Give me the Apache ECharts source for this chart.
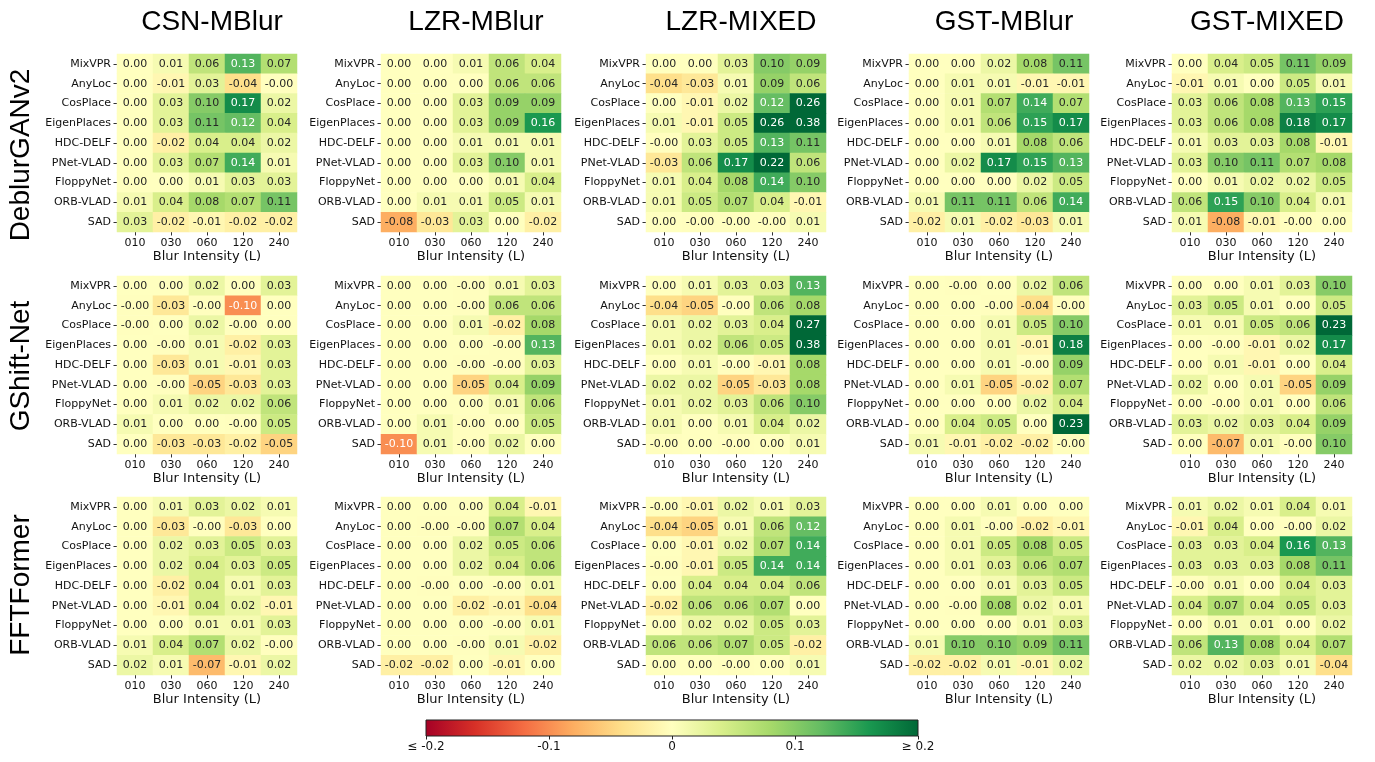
<!DOCTYPE html>
<html>
<head>
<meta charset="utf-8">
<script src="https://cdn.jsdelivr.net/npm/echarts@6/dist/echarts.min.js"></script>
<style>
html,body{margin:0;padding:0;background:#fff;}
#chart{width:1375px;height:762px;}
</style>
</head>
<body>
<div id="chart"></div>
<script>
// ---------- data ----------
const blurLevels = ['010', '030', '060', '120', '240'];
const methods = ['MixVPR', 'AnyLoc', 'CosPlace', 'EigenPlaces', 'HDC-DELF', 'PNet-VLAD', 'FloppyNet', 'ORB-VLAD', 'SAD'];
const datasets = ['CSN-MBlur', 'LZR-MBlur', 'LZR-MIXED', 'GST-MBlur', 'GST-MIXED'];
const deblurModels = ['DeblurGANv2', 'GShift-Net', 'FFTFormer'];
const colorbarTicks = [-0.2, -0.1, 0, 0.1, 0.2];
const N = -0.001; // displayed as "-0.00"

// DeblurGANv2
const deblurganCSNMBlur = [
  [0.00, 0.01, 0.06, 0.13, 0.07],
  [0.00, -0.01, 0.03, -0.04, N],
  [0.00, 0.03, 0.10, 0.17, 0.02],
  [0.00, 0.03, 0.11, 0.12, 0.04],
  [0.00, -0.02, 0.04, 0.04, 0.02],
  [0.00, 0.03, 0.07, 0.14, 0.01],
  [0.00, 0.00, 0.01, 0.03, 0.03],
  [0.01, 0.04, 0.08, 0.07, 0.11],
  [0.03, -0.02, -0.01, -0.02, -0.02]
];
const deblurganLZRMBlur = [
  [0.00, 0.00, 0.01, 0.06, 0.04],
  [0.00, 0.00, 0.00, 0.06, 0.06],
  [0.00, 0.00, 0.03, 0.09, 0.09],
  [0.00, 0.00, 0.03, 0.09, 0.16],
  [0.00, 0.00, 0.01, 0.01, 0.01],
  [0.00, 0.00, 0.03, 0.10, 0.01],
  [0.00, 0.00, 0.00, 0.01, 0.04],
  [0.00, 0.01, 0.01, 0.05, 0.01],
  [-0.08, -0.03, 0.03, 0.00, -0.02]
];
const deblurganLZRMIXED = [
  [0.00, 0.00, 0.03, 0.10, 0.09],
  [-0.04, -0.03, 0.01, 0.09, 0.06],
  [0.00, -0.01, 0.02, 0.12, 0.26],
  [0.01, -0.01, 0.05, 0.26, 0.38],
  [N, 0.03, 0.05, 0.13, 0.11],
  [-0.03, 0.06, 0.17, 0.22, 0.06],
  [0.01, 0.04, 0.08, 0.14, 0.10],
  [0.01, 0.05, 0.07, 0.04, -0.01],
  [0.00, N, N, N, 0.01]
];
const deblurganGSTMBlur = [
  [0.00, 0.00, 0.02, 0.08, 0.11],
  [0.00, 0.01, 0.01, -0.01, -0.01],
  [0.00, 0.01, 0.07, 0.14, 0.07],
  [0.00, 0.01, 0.06, 0.15, 0.17],
  [0.00, 0.00, 0.01, 0.08, 0.06],
  [0.00, 0.02, 0.17, 0.15, 0.13],
  [0.00, 0.00, 0.00, 0.02, 0.05],
  [0.01, 0.11, 0.11, 0.06, 0.14],
  [-0.02, 0.01, -0.02, -0.03, 0.01]
];
const deblurganGSTMIXED = [
  [0.00, 0.04, 0.05, 0.11, 0.09],
  [-0.01, 0.01, 0.00, 0.05, 0.01],
  [0.03, 0.06, 0.08, 0.13, 0.15],
  [0.03, 0.06, 0.08, 0.18, 0.17],
  [0.01, 0.03, 0.03, 0.08, -0.01],
  [0.03, 0.10, 0.11, 0.07, 0.08],
  [0.00, 0.01, 0.02, 0.02, 0.05],
  [0.06, 0.15, 0.10, 0.04, 0.01],
  [0.01, -0.08, -0.01, N, 0.00]
];

// GShift-Net
const gshiftCSNMBlur = [
  [0.00, 0.00, 0.02, 0.00, 0.03],
  [N, -0.03, N, -0.10, 0.00],
  [N, 0.00, 0.02, N, 0.00],
  [0.00, N, 0.01, -0.02, 0.03],
  [0.00, -0.03, 0.01, -0.01, 0.03],
  [0.00, N, -0.05, -0.03, 0.03],
  [0.00, 0.01, 0.02, 0.02, 0.06],
  [0.01, 0.00, 0.00, N, 0.05],
  [0.00, -0.03, -0.03, -0.02, -0.05]
];
const gshiftLZRMBlur = [
  [0.00, 0.00, N, 0.01, 0.03],
  [0.00, 0.00, N, 0.06, 0.06],
  [0.00, 0.00, 0.01, -0.02, 0.08],
  [0.00, 0.00, 0.00, N, 0.13],
  [0.00, 0.00, N, N, 0.03],
  [0.00, 0.00, -0.05, 0.04, 0.09],
  [0.00, 0.00, 0.00, 0.01, 0.06],
  [0.00, 0.01, N, 0.00, 0.05],
  [-0.10, 0.01, N, 0.02, 0.00]
];
const gshiftLZRMIXED = [
  [0.00, 0.01, 0.03, 0.03, 0.13],
  [-0.04, -0.05, N, 0.06, 0.08],
  [0.01, 0.02, 0.03, 0.04, 0.27],
  [0.01, 0.02, 0.06, 0.05, 0.38],
  [0.00, 0.01, N, -0.01, 0.08],
  [0.02, 0.02, -0.05, -0.03, 0.08],
  [0.01, 0.02, 0.03, 0.06, 0.10],
  [0.01, 0.00, 0.01, 0.04, 0.02],
  [N, 0.00, N, 0.00, 0.01]
];
const gshiftGSTMBlur = [
  [0.00, N, 0.00, 0.02, 0.06],
  [0.00, 0.00, N, -0.04, N],
  [0.00, 0.00, 0.01, 0.05, 0.10],
  [0.00, 0.00, 0.01, -0.01, 0.18],
  [0.00, 0.00, 0.01, N, 0.09],
  [0.00, 0.01, -0.05, -0.02, 0.07],
  [0.00, 0.00, 0.00, 0.02, 0.04],
  [0.00, 0.04, 0.05, 0.00, 0.23],
  [0.01, -0.01, -0.02, -0.02, N]
];
const gshiftGSTMIXED = [
  [0.00, 0.00, 0.01, 0.03, 0.10],
  [0.03, 0.05, 0.01, 0.00, 0.05],
  [0.01, 0.01, 0.05, 0.06, 0.23],
  [0.00, N, -0.01, 0.02, 0.17],
  [0.00, 0.01, -0.01, 0.00, 0.04],
  [0.02, 0.00, 0.01, -0.05, 0.09],
  [0.00, N, 0.01, 0.00, 0.06],
  [0.03, 0.02, 0.03, 0.04, 0.09],
  [0.00, -0.07, 0.01, N, 0.10]
];

// FFTFormer
const fftCSNMBlur = [
  [0.00, 0.01, 0.03, 0.02, 0.01],
  [0.00, -0.03, N, -0.03, 0.00],
  [0.00, 0.02, 0.03, 0.05, 0.03],
  [0.00, 0.02, 0.04, 0.03, 0.05],
  [0.00, -0.02, 0.04, 0.01, 0.03],
  [0.00, -0.01, 0.04, 0.02, -0.01],
  [0.00, 0.00, 0.01, 0.01, 0.03],
  [0.01, 0.04, 0.07, 0.02, N],
  [0.02, 0.01, -0.07, -0.01, 0.02]
];
const fftLZRMBlur = [
  [0.00, 0.00, 0.00, 0.04, -0.01],
  [0.00, N, N, 0.07, 0.04],
  [0.00, 0.00, 0.02, 0.05, 0.06],
  [0.00, 0.00, 0.02, 0.04, 0.06],
  [0.00, N, 0.00, N, 0.01],
  [0.00, 0.00, -0.02, -0.01, -0.04],
  [0.00, 0.00, 0.00, N, 0.01],
  [0.00, 0.00, N, 0.01, -0.02],
  [-0.02, -0.02, 0.00, -0.01, 0.00]
];
const fftLZRMIXED = [
  [N, -0.01, 0.02, 0.01, 0.03],
  [-0.04, -0.05, 0.01, 0.06, 0.12],
  [0.00, -0.01, 0.02, 0.07, 0.14],
  [N, -0.01, 0.05, 0.14, 0.14],
  [0.00, 0.04, 0.04, 0.04, 0.06],
  [-0.02, 0.06, 0.06, 0.07, 0.00],
  [0.00, 0.02, 0.02, 0.05, 0.03],
  [0.06, 0.06, 0.07, 0.05, -0.02],
  [0.00, 0.00, N, 0.00, 0.01]
];
const fftGSTMBlur = [
  [0.00, 0.00, 0.01, 0.00, 0.00],
  [0.00, 0.01, N, -0.02, -0.01],
  [0.00, 0.01, 0.05, 0.08, 0.05],
  [0.00, 0.01, 0.03, 0.06, 0.07],
  [0.00, 0.00, 0.01, 0.03, 0.05],
  [0.00, N, 0.08, 0.02, 0.01],
  [0.00, 0.00, 0.00, 0.01, 0.03],
  [0.01, 0.10, 0.10, 0.09, 0.11],
  [-0.02, -0.02, 0.01, -0.01, 0.02]
];
const fftGSTMIXED = [
  [0.01, 0.02, 0.01, 0.04, 0.01],
  [-0.01, 0.04, 0.00, N, 0.02],
  [0.03, 0.03, 0.04, 0.16, 0.13],
  [0.03, 0.03, 0.03, 0.08, 0.11],
  [N, 0.01, 0.00, 0.04, 0.03],
  [0.04, 0.07, 0.04, 0.05, 0.03],
  [0.00, 0.01, 0.01, 0.00, 0.02],
  [0.06, 0.13, 0.08, 0.04, 0.07],
  [0.02, 0.02, 0.03, 0.01, -0.04]
];

const panels = [
  [deblurganCSNMBlur, deblurganLZRMBlur, deblurganLZRMIXED, deblurganGSTMBlur, deblurganGSTMIXED],
  [gshiftCSNMBlur, gshiftLZRMBlur, gshiftLZRMIXED, gshiftGSTMBlur, gshiftGSTMIXED],
  [fftCSNMBlur, fftLZRMBlur, fftLZRMIXED, fftGSTMBlur, fftGSTMIXED]
];

// ---------- layout ----------
const gridLefts = [117, 381, 646, 909, 1172];
const gridTops = [54, 276, 497];
const gridW = 180, gridH = 178;
const RdYlGn = ['#a50026', '#d73027', '#f46d43', '#fdae61', '#fee08b', '#ffffbf', '#d9ef8b', '#a6d96a', '#66bd63', '#1a9850', '#006837'];
const tickFont = 'DejaVu Sans';
const textDark = '#262626';

const grids = [], xAxes = [], yAxes = [], series = [];
let idx = 0;
for (let r = 0; r < 3; r++) {
  for (let c = 0; c < 5; c++) {
    grids.push({ left: gridLefts[c], top: gridTops[r], width: gridW, height: gridH, containLabel: false });
    xAxes.push({
      type: 'category', gridIndex: idx, data: blurLevels, position: 'bottom',
      axisLine: { show: false },
      axisTick: { show: true, alignWithLabel: true, length: 3.5, lineStyle: { color: '#333', width: 1 } },
      axisLabel: { fontFamily: tickFont, fontSize: 11, color: '#111', margin: 6 },
      splitLine: { show: false },
      name: 'Blur Intensity (L)', nameLocation: 'middle', nameGap: 18,
      nameTextStyle: { fontFamily: tickFont, fontSize: 13, color: '#111' }
    });
    yAxes.push({
      type: 'category', gridIndex: idx, data: methods, inverse: true,
      axisLine: { show: false },
      axisTick: { show: true, alignWithLabel: true, length: 3.5, lineStyle: { color: '#333', width: 1 } },
      axisLabel: { fontFamily: tickFont, fontSize: 11, color: '#111', margin: 6 },
      splitLine: { show: false }
    });
    const arr = panels[r][c];
    const data = [];
    for (let y = 0; y < methods.length; y++) {
      for (let x = 0; x < blurLevels.length; x++) {
        const v = arr[y][x];
        const light = v >= 0.115 || v <= -0.095;
        data.push({ value: [x, y, v], label: { color: light ? '#ffffff' : textDark } });
      }
    }
    series.push({
      type: 'heatmap', xAxisIndex: idx, yAxisIndex: idx, data: data,
      label: {
        show: true, fontFamily: tickFont, fontSize: 11,
        formatter: p => p.value[2].toFixed(2)
      },
      itemStyle: { borderWidth: 0 },
      emphasis: { disabled: true }
    });
    idx++;
  }
}

// colorbar axis (grid with gradient background)
const cbIndex = idx;
grids.push({
  left: 426, top: 720, width: 492, height: 16, show: true,
  borderColor: '#222', borderWidth: 1,
  backgroundColor: {
    type: 'linear', x: 0, y: 0, x2: 1, y2: 0,
    colorStops: RdYlGn.map((col, i) => ({ offset: i / (RdYlGn.length - 1), color: col }))
  }
});
xAxes.push({
  type: 'value', gridIndex: cbIndex, min: colorbarTicks[0], max: colorbarTicks[colorbarTicks.length - 1], interval: 0.1,
  axisLine: { show: false },
  axisTick: { show: true, length: 3.5, lineStyle: { color: '#222' } },
  splitLine: { show: false },
  axisLabel: {
    fontFamily: tickFont, fontSize: 12, color: '#111', margin: 5,
    formatter: v => {
      if (Math.abs(v + 0.2) < 1e-9) return '≤ -0.2';
      if (Math.abs(v - 0.2) < 1e-9) return '≥ 0.2';
      if (Math.abs(v) < 1e-9) return '0';
      return String(Math.round(v * 10) / 10);
    }
  }
});
yAxes.push({ type: 'value', gridIndex: cbIndex, show: false, min: 0, max: 1 });

const titles = datasets.map((d, c) => ({
  text: d, left: gridLefts[c] + gridW / 2, top: 3, textAlign: 'center',
  textStyle: { fontFamily: 'Liberation Sans', fontSize: 28, fontWeight: 'normal', color: '#000' }
}));

const rowLabelCenters = [155, 366, 585];
const graphics = deblurModels.map((m, r) => ({
  type: 'text', x: 21, y: rowLabelCenters[r], rotation: Math.PI / 2,
  style: { text: m, fontFamily: 'Liberation Sans', fontSize: 28, fill: '#000', align: 'center', verticalAlign: 'middle' }
}));

const chart = echarts.init(document.getElementById('chart'), null, { renderer: 'canvas' });
chart.setOption({
  backgroundColor: '#ffffff',
  animation: false,
  title: titles,
  grid: grids,
  xAxis: xAxes,
  yAxis: yAxes,
  visualMap: {
    type: 'continuous', show: false, min: -0.2, max: 0.2, dimension: 2,
    seriesIndex: series.map((s, i) => i),
    inRange: { color: RdYlGn }
  },
  graphic: graphics,
  series: series
});
</script>
</body>
</html>
